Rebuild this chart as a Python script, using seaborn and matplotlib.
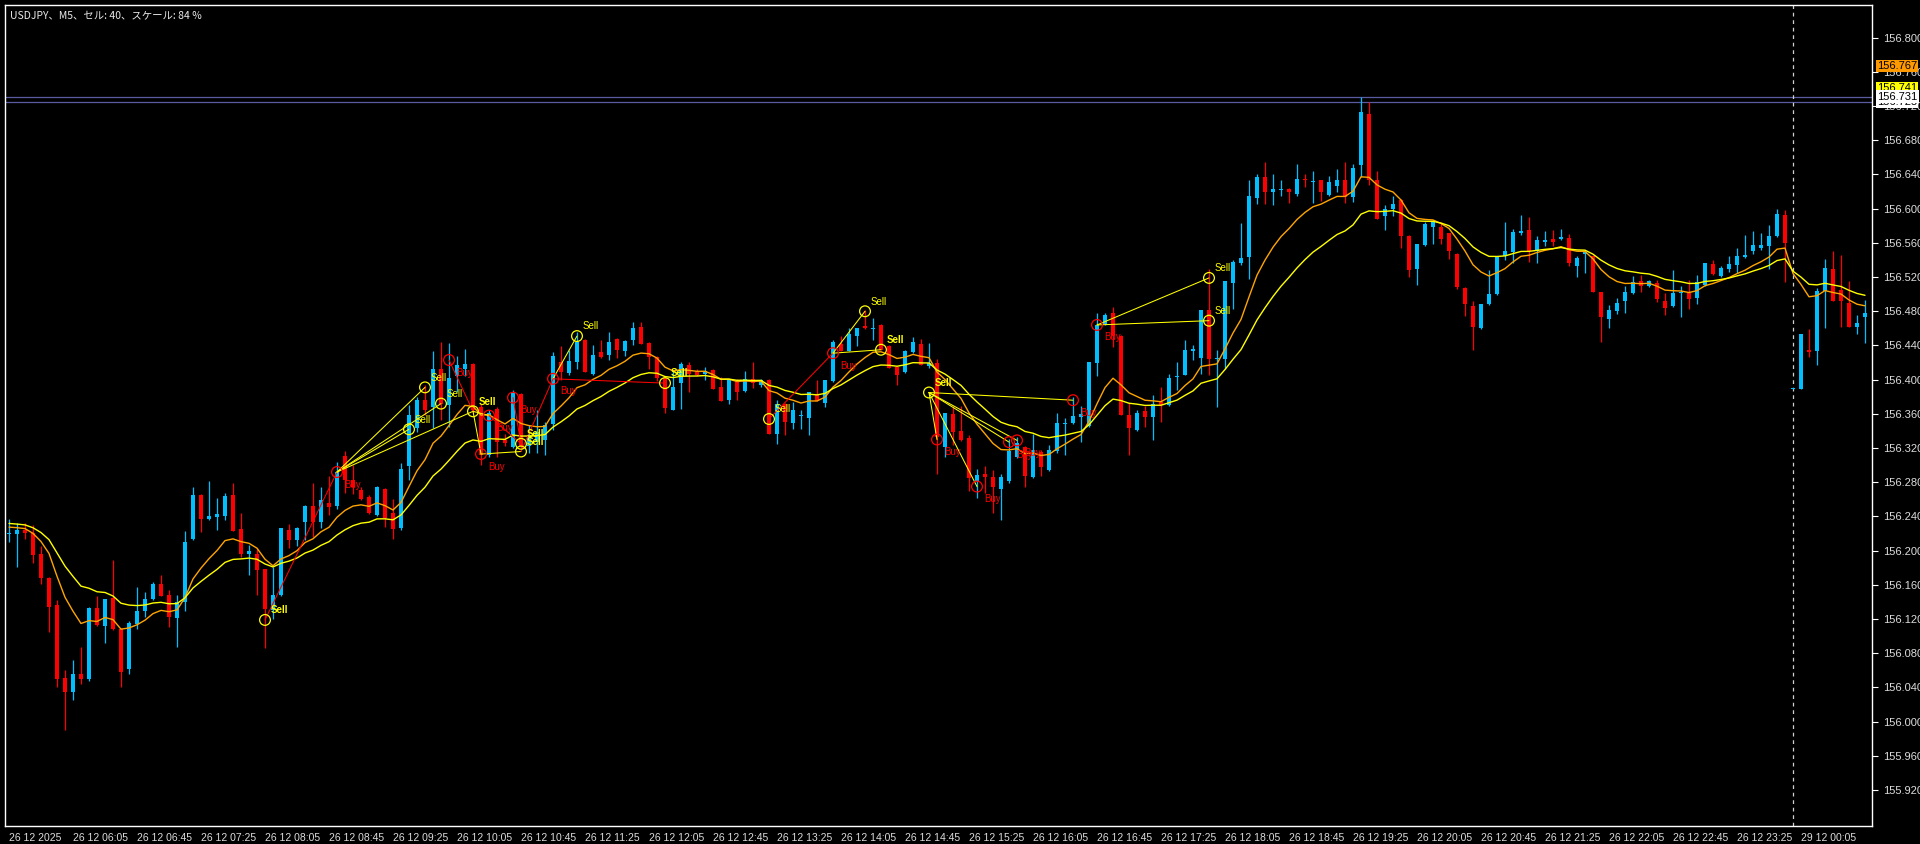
import matplotlib
matplotlib.use("Agg")
import numpy as np
import pandas as pd
import seaborn as sns
import matplotlib.pyplot as plt
import matplotlib.transforms as mtransforms

# USDJPY M5 bars, 26.12.2025 05:25 -> 29.12.2025 00:25
opens = [
    156.220, 156.219, 156.224, 156.221, 156.196, 156.168, 156.137, 156.051, 156.035, 156.056,
    156.050, 156.133, 156.112, 156.145, 156.108, 156.062, 156.114, 156.129, 156.143, 156.161,
    156.148, 156.121, 156.140, 156.214, 156.265, 156.237, 156.239, 156.241, 156.265, 156.225,
    156.196, 156.196, 156.178, 156.131, 156.148, 156.224, 156.213, 156.234, 156.252, 156.234,
    156.256, 156.252, 156.311, 156.283, 156.271, 156.263, 156.242, 156.272, 156.244, 156.227,
    156.299, 156.344, 156.376, 156.368, 156.413, 156.370, 156.404, 156.413, 156.418, 156.368,
    156.312, 156.366, 156.329, 156.321, 156.383, 156.322, 156.327, 156.330, 156.348, 156.421,
    156.408, 156.421, 156.446, 156.407, 156.432, 156.429, 156.448, 156.434, 156.446, 156.462,
    156.443, 156.427, 156.402, 156.365, 156.396, 156.417, 156.410, 156.407, 156.411, 156.391,
    156.376, 156.398, 156.387, 156.401, 156.394, 156.400, 156.337, 156.372, 156.349, 156.357,
    156.355, 156.382, 156.373, 156.398, 156.442, 156.434, 156.451, 156.463, 156.459, 156.464,
    156.439, 156.415, 156.409, 156.432, 156.442, 156.416, 156.419, 156.321, 156.360, 156.340,
    156.332, 156.280, 156.290, 156.286, 156.272, 156.282, 156.310, 156.321, 156.286, 156.315,
    156.294, 156.316, 156.348, 156.349, 156.356, 156.346, 156.419, 156.465, 156.478, 156.451,
    156.359, 156.341, 156.363, 156.356, 156.374, 156.370, 156.403, 156.406, 156.434, 156.425,
    156.481, 156.424, 156.424, 156.513, 156.537, 156.543, 156.613, 156.637, 156.619, 156.622,
    156.623, 156.617, 156.635, 156.631, 156.633, 156.616, 156.627, 156.634, 156.614, 156.651,
    156.711, 156.634, 156.591, 156.600, 156.610, 156.568, 156.529, 156.557, 156.579, 156.578,
    156.571, 156.547, 156.507, 156.486, 156.460, 156.488, 156.500, 156.545, 156.549, 156.572,
    156.575, 156.550, 156.561, 156.564, 156.564, 156.566, 156.533, 156.547, 156.545, 156.502,
    156.471, 156.480, 156.492, 156.501, 156.515, 156.509, 156.513, 156.492, 156.486, 156.501,
    156.501, 156.495, 156.511, 156.535, 156.521, 156.530, 156.534, 156.543, 156.550, 156.554,
    156.556, 156.568, 156.593, 156.389, 156.389, 156.435, 156.434, 156.504, 156.529, 156.505,
    156.490, 156.462, 156.473,
]
highs = [
    156.237, 156.232, 156.232, 156.230, 156.205, 156.169, 156.142, 156.061, 156.072, 156.087,
    156.134, 156.147, 156.143, 156.189, 156.110, 156.118, 156.157, 156.152, 156.163, 156.171,
    156.154, 156.148, 156.223, 156.275, 156.266, 156.282, 156.262, 156.268, 156.279, 156.244,
    156.207, 156.203, 156.179, 156.181, 156.227, 156.231, 156.228, 156.253, 156.279, 156.275,
    156.287, 156.304, 156.316, 156.300, 156.275, 156.265, 156.276, 156.273, 156.260, 156.303,
    156.370, 156.380, 156.394, 156.434, 156.444, 156.443, 156.428, 156.436, 156.419, 156.372,
    156.365, 156.368, 156.337, 156.388, 156.384, 156.347, 156.364, 156.351, 156.432, 156.439,
    156.435, 156.456, 156.447, 156.441, 156.446, 156.456, 156.449, 156.446, 156.467, 156.467,
    156.444, 156.428, 156.403, 156.411, 156.421, 156.421, 156.413, 156.415, 156.412, 156.403,
    156.401, 156.401, 156.410, 156.421, 156.401, 156.401, 156.376, 156.373, 156.374, 156.365,
    156.386, 156.400, 156.400, 156.446, 156.451, 156.460, 156.460, 156.482, 156.472, 156.465,
    156.440, 156.416, 156.435, 156.450, 156.447, 156.443, 156.424, 156.361, 156.369, 156.369,
    156.335, 156.295, 156.299, 156.294, 156.290, 156.331, 156.333, 156.322, 156.337, 156.318,
    156.324, 156.361, 156.355, 156.380, 156.369, 156.421, 156.478, 156.478, 156.485, 156.452,
    156.373, 156.365, 156.369, 156.382, 156.392, 156.407, 156.421, 156.446, 156.441, 156.481,
    156.530, 156.435, 156.515, 156.540, 156.583, 156.634, 156.641, 156.655, 156.641, 156.633,
    156.624, 156.652, 156.641, 156.644, 156.634, 156.638, 156.646, 156.655, 156.652, 156.731,
    156.725, 156.644, 156.604, 156.615, 156.611, 156.569, 156.559, 156.584, 156.584, 156.584,
    156.572, 156.548, 156.508, 156.492, 156.488, 156.528, 156.543, 156.584, 156.576, 156.593,
    156.590, 156.568, 156.574, 156.575, 156.576, 156.570, 156.545, 156.551, 156.546, 156.503,
    156.487, 156.496, 156.509, 156.521, 156.522, 156.517, 156.517, 156.501, 156.528, 156.510,
    156.517, 156.522, 156.537, 156.540, 156.533, 156.545, 156.554, 156.569, 156.574, 156.571,
    156.581, 156.600, 156.598, 156.390, 156.454, 156.459, 156.507, 156.541, 156.550, 156.546,
    156.515, 156.476, 156.493,
]
lows = [
    156.210, 156.181, 156.214, 156.186, 156.161, 156.105, 156.041, 155.990, 156.025, 156.044,
    156.048, 156.112, 156.092, 156.107, 156.041, 156.056, 156.108, 156.122, 156.142, 156.147,
    156.111, 156.087, 156.130, 156.212, 156.222, 156.236, 156.224, 156.236, 156.223, 156.193,
    156.172, 156.148, 156.086, 156.120, 156.147, 156.203, 156.205, 156.212, 156.216, 156.226,
    156.242, 156.249, 156.267, 156.266, 156.259, 156.243, 156.241, 156.228, 156.214, 156.224,
    156.283, 156.339, 156.359, 156.343, 156.353, 156.345, 156.386, 156.404, 156.361, 156.300,
    156.310, 156.310, 156.322, 156.320, 156.320, 156.314, 156.314, 156.312, 156.341, 156.400,
    156.406, 156.413, 156.409, 156.405, 156.425, 156.423, 156.425, 156.428, 156.441, 156.442,
    156.413, 156.398, 156.361, 156.364, 156.366, 156.386, 156.404, 156.400, 156.389, 156.375,
    156.372, 156.376, 156.386, 156.390, 156.392, 156.337, 156.325, 156.335, 156.342, 156.342,
    156.335, 156.375, 156.368, 156.397, 156.433, 156.433, 156.439, 156.459, 156.446, 156.435,
    156.414, 156.394, 156.408, 156.431, 156.417, 156.414, 156.290, 156.310, 156.324, 156.328,
    156.270, 156.262, 156.267, 156.244, 156.236, 156.279, 156.308, 156.275, 156.285, 156.287,
    156.293, 156.314, 156.312, 156.348, 156.327, 156.345, 156.404, 156.464, 156.438, 156.359,
    156.312, 156.340, 156.345, 156.330, 156.350, 156.369, 156.388, 156.405, 156.423, 156.407,
    156.405, 156.368, 156.413, 156.483, 156.534, 156.518, 156.606, 156.606, 156.604, 156.615,
    156.607, 156.615, 156.625, 156.607, 156.609, 156.615, 156.620, 156.607, 156.608, 156.637,
    156.628, 156.588, 156.575, 156.591, 156.554, 156.520, 156.511, 156.556, 156.559, 156.559,
    156.541, 156.506, 156.474, 156.435, 156.459, 156.487, 156.499, 156.540, 156.537, 156.569,
    156.538, 156.537, 156.556, 156.556, 156.563, 156.533, 156.520, 156.525, 156.502, 156.444,
    156.461, 156.477, 156.478, 156.500, 156.502, 156.508, 156.491, 156.476, 156.485, 156.473,
    156.483, 156.488, 156.510, 156.522, 156.520, 156.526, 156.525, 156.542, 156.547, 156.552,
    156.529, 156.567, 156.514, 156.389, 156.389, 156.427, 156.417, 156.461, 156.492, 156.462,
    156.462, 156.453, 156.443,
]
closes = [
    156.221, 156.224, 156.221, 156.195, 156.168, 156.134, 156.050, 156.035, 156.056, 156.050,
    156.133, 156.113, 156.143, 156.108, 156.058, 156.116, 156.130, 156.143, 156.161, 156.147,
    156.122, 156.140, 156.210, 156.265, 156.237, 156.240, 156.243, 156.264, 156.223, 156.196,
    156.200, 156.177, 156.132, 156.148, 156.226, 156.212, 156.226, 156.252, 156.234, 156.259,
    156.251, 156.292, 156.283, 156.275, 156.260, 156.244, 156.274, 156.238, 156.225, 156.296,
    156.359, 156.376, 156.365, 156.412, 156.372, 156.402, 156.417, 156.418, 156.364, 156.312,
    156.361, 156.327, 156.326, 156.384, 156.322, 156.335, 156.339, 156.347, 156.428, 156.409,
    156.422, 156.444, 156.409, 156.429, 156.426, 156.444, 156.435, 156.445, 156.461, 156.442,
    156.427, 156.402, 156.367, 156.391, 156.418, 156.407, 156.405, 156.410, 156.389, 156.375,
    156.401, 156.386, 156.401, 156.396, 156.400, 156.337, 156.372, 156.351, 156.365, 156.358,
    156.386, 156.375, 156.400, 156.444, 156.434, 156.454, 156.460, 156.460, 156.460, 156.435,
    156.414, 156.405, 156.433, 156.444, 156.417, 156.419, 156.333, 156.361, 156.339, 156.329,
    156.285, 156.288, 156.286, 156.275, 156.286, 156.316, 156.326, 156.287, 156.318, 156.298,
    156.318, 156.349, 156.349, 156.357, 156.360, 156.421, 156.464, 156.476, 156.451, 156.359,
    156.343, 156.361, 156.356, 156.372, 156.370, 156.402, 156.404, 156.435, 156.436, 156.481,
    156.424, 156.425, 156.515, 156.538, 156.542, 156.615, 156.637, 156.619, 156.623, 156.623,
    156.619, 156.635, 156.633, 156.632, 156.619, 156.631, 156.634, 156.614, 156.648, 156.713,
    156.634, 156.588, 156.600, 156.605, 156.568, 156.528, 156.559, 156.582, 156.584, 156.564,
    156.551, 156.508, 156.488, 156.462, 156.488, 156.500, 156.543, 156.551, 156.573, 156.574,
    156.551, 156.563, 156.563, 156.561, 156.567, 156.536, 156.542, 156.549, 156.502, 156.473,
    156.482, 156.490, 156.502, 156.514, 156.510, 156.515, 156.494, 156.484, 156.501, 156.502,
    156.494, 156.514, 156.536, 156.524, 156.531, 156.535, 156.545, 156.546, 156.558, 156.558,
    156.568, 156.594, 156.560, 156.390, 156.454, 156.432, 156.504, 156.531, 156.492, 156.492,
    156.462, 156.466, 156.478,
]

# moving average values at the left edge of the chart
ma_fast_start = 156.229
ma_slow_start = 156.233

time_labels = [
    "26 12 2025", "26 12 06:05", "26 12 06:45", "26 12 07:25", "26 12 08:05", "26 12 08:45",
    "26 12 09:25", "26 12 10:05", "26 12 10:45", "26 12 11:25", "26 12 12:05", "26 12 12:45",
    "26 12 13:25", "26 12 14:05", "26 12 14:45", "26 12 15:25", "26 12 16:05", "26 12 16:45",
    "26 12 17:25", "26 12 18:05", "26 12 18:45", "26 12 19:25", "26 12 20:05", "26 12 20:45",
    "26 12 21:25", "26 12 22:05", "26 12 22:45", "26 12 23:25", "29 12 00:05",
]

# trade history markers
sell_bars = [32, 50, 52, 54, 58, 64, 64, 71, 82, 95, 107, 109, 115, 150, 150]
sell_prices = [156.119, 156.342, 156.391, 156.372, 156.363, 156.325, 156.316, 156.451,
               156.396, 156.354, 156.480, 156.435, 156.385, 156.519, 156.469]
buy_bars = [41, 55, 59, 60, 63, 68, 103, 116, 121, 125, 126, 133, 136]
buy_prices = [156.292, 156.423, 156.313, 156.358, 156.379, 156.401, 156.431, 156.330,
              156.275, 156.327, 156.329, 156.376, 156.464]
# sell labels drawn twice on the chart (they look heavier)
double_sells = [32, 58, 64, 82, 109, 115]

trade_side = ["sell", "buy", "buy", "buy", "buy", "buy", "sell", "sell", "buy", "buy", "buy", "sell",
              "buy", "buy", "sell", "buy", "buy", "sell", "sell", "sell", "sell", "sell", "buy", "buy"]
trade_open_bar = [32, 41, 41, 41, 41, 55, 58, 58, 59, 60, 63, 64, 68, 68, 95, 103, 103,
                  115, 115, 115, 115, 115, 136, 136]
trade_open_px = [156.119, 156.292, 156.292, 156.292, 156.292, 156.423, 156.363, 156.363,
                 156.313, 156.358, 156.379, 156.316, 156.401, 156.401, 156.354, 156.431,
                 156.431, 156.385, 156.385, 156.385, 156.385, 156.385, 156.464, 156.464]
trade_close_bar = [41, 50, 52, 54, 58, 58, 59, 60, 64, 64, 64, 68, 71, 82, 103, 107, 109,
                   116, 121, 125, 126, 133, 150, 150]
trade_close_px = [156.292, 156.342, 156.391, 156.372, 156.363, 156.363, 156.313, 156.358,
                  156.316, 156.325, 156.325, 156.401, 156.451, 156.396, 156.431, 156.480,
                  156.435, 156.330, 156.275, 156.327, 156.329, 156.376, 156.519, 156.469]

hlines = [156.731, 156.725]
price_tags = [("156.725", "#ffffff"), ("156.741", "#ffff00"), ("156.731", "#ffffff"), ("156.767", "#ff9900")]
separator_bar = 223

UP = "#00bfff"
DOWN = "#ff0000"
YELLOW = "#ffff00"
ORANGE = "#ffa500"
TXT = "#dcdcdc"

sns.set_theme(style="dark")
plt.rcParams["font.family"] = ["Liberation Sans", "DejaVu Sans"]

W, H = 1920, 844
fig = plt.figure(figsize=(W / 100, H / 100), dpi=100)
fig.patch.set_facecolor("black")
l_px, r_px, t_px, b_px = 5, 1872, 5, 826
ax = fig.add_axes([l_px / W, 1 - b_px / H, (r_px - l_px) / W, (b_px - t_px) / H])
ax.set_facecolor("black")

df = pd.DataFrame({"open": opens, "high": highs, "low": lows, "close": closes})
df["bar"] = np.arange(len(df))
df["color"] = np.where(df["close"] >= df["open"], UP, DOWN)

# candles
ax.vlines(df["bar"], df["low"], df["high"], colors=df["color"], linewidth=0.9, zorder=2)
body_low = df[["open", "close"]].min(axis=1)
body_h = (df["close"] - df["open"]).abs().clip(lower=0.0012)
ax.bar(df["bar"], body_h, bottom=body_low, width=0.62, color=df["color"], linewidth=0, zorder=3)

# moving averages
fast = pd.Series([ma_fast_start] + closes).ewm(span=10, adjust=False).mean().iloc[1:].values
slow = pd.Series([ma_slow_start] + closes).ewm(span=20, adjust=False).mean().iloc[1:].values
sns.lineplot(x=df["bar"], y=fast, color=ORANGE, linewidth=1.0, ax=ax, zorder=4)
sns.lineplot(x=df["bar"], y=slow, color=YELLOW, linewidth=1.0, ax=ax, zorder=4)

for y in hlines:
    ax.axhline(y, color="#5a5aa0", linewidth=0.9, zorder=1)
ax.axvline(separator_bar, color="#d0d0d0", linewidth=0.9, linestyle=(0, (3, 3)), zorder=1)

# trade lines: yellow when the trade made money, red otherwise
for side, b0, p0, b1, p1 in zip(trade_side, trade_open_bar, trade_open_px, trade_close_bar, trade_close_px):
    profit = (p0 - p1) if side == "sell" else (p1 - p0)
    c = YELLOW if profit >= 0 else DOWN
    ax.plot([b0, b1], [p0, p1], color=c, linewidth=0.75, zorder=5)

ax.scatter(sell_bars, sell_prices, s=60, facecolors="none", edgecolors=YELLOW, linewidths=0.9, zorder=6)
ax.scatter(buy_bars, buy_prices, s=60, facecolors="none", edgecolors=DOWN, linewidths=0.9, zorder=6)
for b, p in zip(sell_bars, sell_prices):
    w = "bold" if b in double_sells else "normal"
    ax.annotate("Sell", (b, p), xytext=(4, 7), textcoords="offset points", color=YELLOW,
                fontsize=7, fontweight=w, va="center", ha="left", zorder=7)
for b, p in zip(buy_bars, buy_prices):
    ax.annotate("Buy", (b, p), xytext=(5, -9), textcoords="offset points", color=DOWN,
                fontsize=7, va="center", ha="left", zorder=7)

ax.set_xlim(-0.5, 232.875)
ax.set_ylim(155.878, 156.8382)

yticks = np.round(np.arange(155.92, 156.8001, 0.04), 3)
ax.yaxis.tick_right()
ax.set_yticks(yticks)
ax.set_yticklabels([f"{v:.3f}" for v in yticks])
ax.tick_params(axis="y", colors="#ffffff", labelcolor=TXT, labelsize=8, length=4, width=0.8, pad=4)

ax.set_xticks(np.arange(0, 8 * len(time_labels), 8))
ax.set_xticklabels(time_labels, ha="left", family=["Liberation Sans Narrow", "Liberation Sans"])
ax.tick_params(axis="x", colors="#ffffff", labelcolor=TXT, labelsize=7.5, length=3, width=0.8, pad=2)
ax.set_xlabel("")
ax.set_ylabel("")
ax.grid(False)
for sp in ax.spines.values():
    sp.set_color("#ffffff")
    sp.set_linewidth(1.0)

tr = mtransforms.blended_transform_factory(ax.transAxes, ax.transData)
for txt, fc in price_tags:
    ax.text(1.0027, float(txt), txt, transform=tr, ha="left", va="center", fontsize=8, color="black",
            bbox=dict(boxstyle="square,pad=0.12", fc=fc, ec="none"), clip_on=False, zorder=10)

fig.text(10 / W, 1 - 15 / H, "USDJPY、M5、セル: 40、スケール: 84 %", fontsize=7.5, color="#e8e8e8",
         ha="left", va="center", family=["Noto Sans CJK JP", "DejaVu Sans"])

fig.savefig("out.png", dpi=100, facecolor="black")
